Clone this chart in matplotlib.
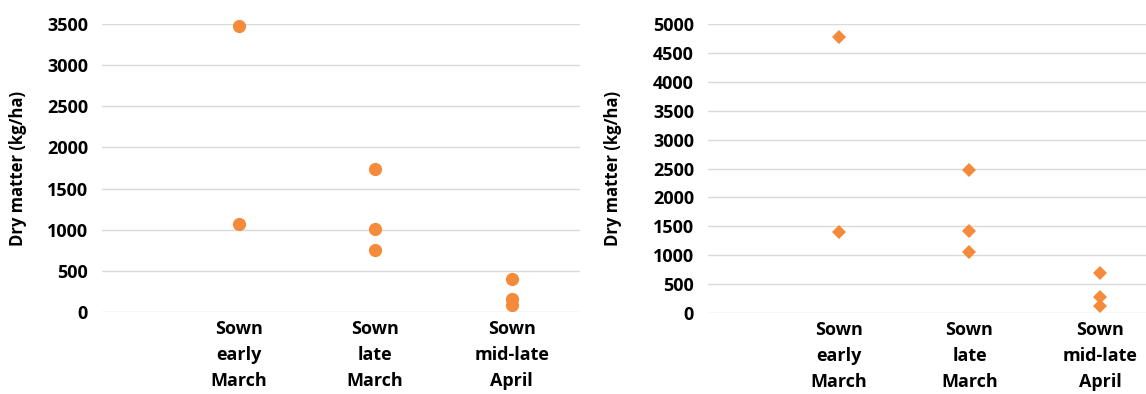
import matplotlib
matplotlib.use('Agg')
import matplotlib.pyplot as plt

plt.rcParams['font.family'] = ['Open Sans', 'DejaVu Sans']
plt.rcParams['font.weight'] = 'bold'

categories = ['Sown\nearly\nMarch', 'Sown\nlate\nMarch', 'Sown\nmid-late\nApril']

# left chart (circles)
left_x = [1, 1, 2, 2, 2, 3, 3, 3]
left_y = [3480, 1072, 1738, 1010, 752, 403, 160, 80]

# right chart (diamonds)
right_x = [1, 1, 2, 2, 2, 3, 3, 3]
right_y = [4775, 1395, 2474, 1420, 1055, 695, 270, 118]

orange = '#F58A3A'
grid_col = '#D9D9D9'

fig = plt.figure(figsize=(11.46, 3.94), dpi=100)
ax1 = fig.add_axes([102/1146, 1-312/394, 478/1146, 288/394])
ax2 = fig.add_axes([708/1146, 1-313/394, 438/1146, 289/394])

def style(ax, ymax, step, xmax):
    ax.set_ylim(0, ymax)
    ax.set_xlim(0, xmax)
    ax.set_yticks(range(0, ymax + 1, step))
    ax.set_xticks([1, 2, 3])
    ax.set_xticklabels(categories, fontsize=13, fontweight='bold', linespacing=1.55)
    ax.tick_params(axis='both', length=0, labelsize=13, pad=6)
    ax.tick_params(axis='y', pad=10)
    for s in ax.spines.values():
        s.set_visible(False)
    ax.grid(axis='y', color=grid_col, linewidth=1)
    ax.set_axisbelow(True)
    ax.set_ylabel('Dry matter (kg/ha)', fontsize=12, fontweight='bold')

ax1.plot(left_x, left_y, 'o', color=orange, markersize=9.5, markeredgewidth=0, clip_on=False)
style(ax1, 3500, 500, 3.5)
ax1.yaxis.set_label_coords(-0.157, 0.5)

ax2.plot(right_x, right_y, 'D', color=orange, markersize=7, markeredgewidth=0, clip_on=False)
style(ax2, 5000, 500, 3.35)
ax2.yaxis.set_label_coords(-0.196, 0.5)

fig.savefig('out.png', dpi=100)
